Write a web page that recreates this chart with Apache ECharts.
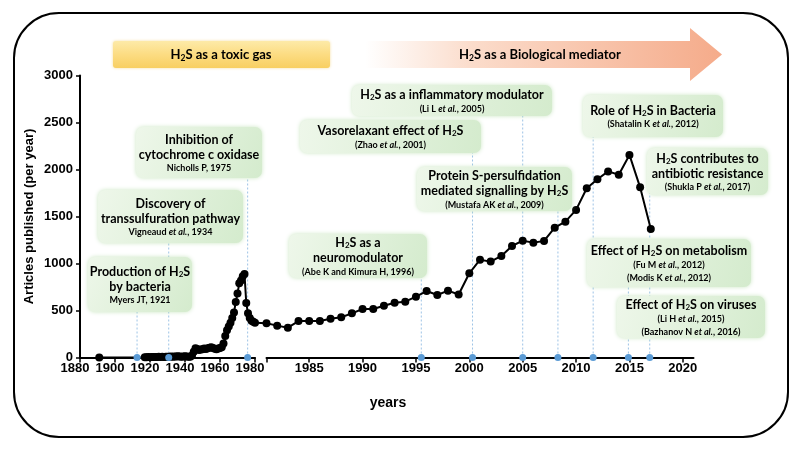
<!DOCTYPE html>
<html><head><meta charset="utf-8">
<script src="https://cdn.jsdelivr.net/npm/echarts@6/dist/echarts.min.js"></script>
<style>html,body{margin:0;padding:0;background:#fff}#main{width:800px;height:450px}</style>
</head><body><div id="main"></div>
<script>
// ---------- data ----------
const yearsEarly = [1891,1917,1918,1919,1920,1921,1922,1923,1924,1925,1926,1927,1928,1929,1930,1931,1932,1933,1934,1935,1936,1937,1938,1939,1940,1941,1942,1943,1944,
  1945,1946,1947,1948,1949,1950,1951,1952,1953,1954,1955,1956,1957,1958,1959,1960,1961,1962,1963,1964,1965,1966,1967,1968,1969,1970,1971,1972,1973,1974,1975,1976,1977,1978,1979,1980];
const valuesEarly = [0,3,2,4,3,5,4,6,5,7,6,8,6,7,9,8,10,9,11,10,12,10,9,11,12,10,9,8,20,
  60,98,90,80,85,87,95,90,98,105,108,100,92,87,95,100,108,150,230,290,330,370,420,480,590,680,790,820,865,888,580,470,420,390,380,370];
const yearsLate = [1981,1982,1983,1984,1985,1986,1987,1988,1989,1990,1991,1992,1993,1994,1995,1996,1997,1998,1999,2000,2001,2002,2003,2004,2005,2006,2007,2008,2009,2010,2011,2012,2013,2014,2015,2016,2017];
const valuesLate = [364,339,317,388,388,388,413,428,470,516,516,551,583,594,647,707,665,711,670,896,1040,1020,1080,1186,1243,1222,1240,1381,1445,1570,1800,1896,1980,1945,2155,1810,1367];
const yTicks = [0,500,1000,1500,2000,2500,3000];
const earlyTickYears = [1880,1900,1920,1940,1960,1980];
const lateTickYears = [1981,1985,1990,1995,2000,2005,2010,2015,2020];
const lateLabelYears = [1985,1990,1995,2000,2005,2010,2015,2020];
// event markers (year where the marker sits on the axis, segment, and event box it belongs to)
const markerYears = [1912.6,1930.7,1975.8,1995.5,2000.3,2005.0,2008.3,2011.6,2014.9,2016.9];
const markerSegment = [0,0,0,1,1,1,1,1,1,1];
const markerEvent = [0,1,2,3,4,5,6,7,9,8];
const eventTexts = [
  '{t|Production of H}{s|2}{t|S}\n{t|by bacteria}\n{r|Myers JT, 1921}',
  '{t|Discovery of}\n{t|transsulfuration pathway}\n{r|Vigneaud }{ri|et al.}{r|, 1934}',
  '{t|Inhibition of}\n{t|cytochrome c oxidase}\n{r|Nicholls P, 1975}',
  '{t|H}{s|2}{t|S as a}\n{t|neuromodulator}\n{r|(Abe K and Kimura H, 1996)}',
  '{t|Vasorelaxant effect of H}{s|2}{t|S}\n{r|(Zhao }{ri|et al.}{r|, 2001)}',
  '{t|H}{s|2}{t|S as a inflammatory modulator}\n{r|(Li L }{ri|et al.}{r|, 2005)}',
  '{t|Protein S-persulfidation}\n{t|mediated signalling by H}{s|2}{t|S}\n{r|(Mustafa AK }{ri|et al.}{r|, 2009)}',
  '{t|Role of H}{s|2}{t|S in Bacteria}\n{r|(Shatalin K }{ri|et al.}{r|, 2012)}',
  '{t|H}{s|2}{t|S contributes to}\n{t|antibiotic resistance}\n{r|(Shukla P }{ri|et al.}{r|, 2017)}',
  '{t|Effect of H}{s|2}{t|S on metabolism}\n{r|(Fu M }{ri|et al.}{r|, 2012)}\n{r|(Modis K }{ri|et al.}{r|, 2012)}',
  '{t|Effect of H}{s|2}{t|S on viruses}\n{r|(Li H }{ri|et al.}{r|, 2015)}\n{r|(Bazhanov N }{ri|et al.}{r|, 2016)}'
];
const phaseTexts = ['{b|H}{bs|2}{b|S as a toxic gas}', '{b|H}{bs|2}{b|S as a Biological mediator}'];
const yTitle = 'Articles published (per year)';
const xTitle = 'years';

// ---------- layout (pixels) ----------
const eventBoxes = [
  [88,257,104,55],[98,190,145,53],[136,127,126,51],[289,234,138,44],[300,120,181,33],
  [352,85,200,31],[417,167,155,44],[583,95,140,42],[647,148,121,47],[587,239,164,48],[617,296,148,42]
];
const LABEL_FONT = 'Liberation Sans, Arial, sans-serif';
const BOX_FONT = 'Lato, Noto Sans, sans-serif';

const axisLineStyle = {color:'#000', width:2};
const tickStyle = {color:'#000', width:1.5};
const plain = v => String(v);
const labelStyle = {color:'#000', fontWeight:'bold', fontSize:13, fontFamily:LABEL_FONT, formatter:plain};

const option = {
  animation:false,
  backgroundColor:'#fff',
  title:{text:xTitle, left:383, top:391, textAlign:'center',
    textStyle:{fontSize:14, fontWeight:'bold', color:'#000', fontFamily:LABEL_FONT}},
  grid:[
    {left:80, top:75.5, width:175, height:282, containLabel:false, outerBoundsMode:'none'},
    {left:266.5, top:75.5, width:427, height:282, containLabel:false, outerBoundsMode:'none'}
  ],
  xAxis:[
    {type:'value', gridIndex:0, min:1880, max:1980, interval:20,
      axisLine:{show:true, onZero:false, lineStyle:axisLineStyle},
      axisTick:{show:true, length:5, lineStyle:tickStyle},
      axisLabel:Object.assign({margin:4, padding:[0,10,0,0], customValues:earlyTickYears}, labelStyle),
      splitLine:{show:false}},
    {type:'value', gridIndex:1, min:1981, max:2021,
      axisLine:{show:true, onZero:false, lineStyle:axisLineStyle},
      axisTick:{show:true, length:5, lineStyle:tickStyle, customValues:lateTickYears},
      axisLabel:Object.assign({margin:4, customValues:lateLabelYears}, labelStyle),
      splitLine:{show:false}}
  ],
  yAxis:[
    {type:'value', gridIndex:0, min:0, max:3000, interval:500,
      name:yTitle, nameLocation:'middle', nameGap:44,
      nameTextStyle:{fontSize:13, fontWeight:'bold', color:'#000', fontFamily:LABEL_FONT},
      axisLine:{show:true, lineStyle:axisLineStyle},
      axisTick:{show:true, length:4, lineStyle:tickStyle},
      axisLabel:Object.assign({margin:7, customValues:yTicks}, labelStyle),
      splitLine:{show:false}},
    {type:'value', gridIndex:1, min:0, max:3000, show:false, splitLine:{show:false}}
  ],
  series:[
    {type:'line', xAxisIndex:0, yAxisIndex:0, data:yearsEarly.map((y,i)=>[y,valuesEarly[i]]),
      symbol:'circle', symbolSize:8, itemStyle:{color:'#000'}, lineStyle:{color:'#000', width:2}, z:3},
    {type:'line', xAxisIndex:1, yAxisIndex:1, data:yearsLate.map((y,i)=>[y,valuesLate[i]]),
      symbol:'circle', symbolSize:8, itemStyle:{color:'#000'}, lineStyle:{color:'#000', width:2}, z:3}
  ]
};

const chart = echarts.init(document.getElementById('main'), null, {renderer:'canvas'});
chart.setOption(option);

// ---------- graphics built through the chart's scales ----------
const g = [];
// outer frame
g.push({type:'rect', shape:{x:14, y:13, width:774, height:424, r:45}, style:{fill:'none', stroke:'#000', lineWidth:2}, z:0, silent:true});
// phase banners
g.push({type:'rect', shape:{x:113, y:41, width:217, height:27, r:3},
  style:{fill:{type:'linear', x:0, y:0, x2:0, y2:1, colorStops:[{offset:0, color:'#fdeaa8'},{offset:0.5,color:'#fcdc82'},{offset:1, color:'#f8cf62'}]},
    shadowBlur:3, shadowColor:'rgba(240,200,90,0.6)'}, z:5});
g.push({type:'polygon', shape:{points:[[365,41],[690,41],[690,28],[722,54.5],[690,81],[690,68],[365,68]]},
  style:{fill:{type:'linear', x:0, y:0, x2:1, y2:0, colorStops:[{offset:0, color:'rgba(255,255,255,1)'},{offset:0.3,color:'#fbdccb'},{offset:1, color:'#f5ab8a'}]}}, z:5});
const bannerRich = {
  b:{fontSize:13, fontWeight:'bold', fontFamily:BOX_FONT, color:'#1a1a1a'},
  bs:{fontSize:8.5, fontWeight:'bold', fontFamily:BOX_FONT, color:'#1a1a1a', padding:[6,0,0,0]}
};
g.push({type:'text', style:{text:phaseTexts[0], rich:bannerRich, x:221, y:55, align:'center', verticalAlign:'middle', textAlign:'center', textVerticalAlign:'middle'}, z:6});
g.push({type:'text', style:{text:phaseTexts[1], rich:bannerRich, x:540, y:55, align:'center', verticalAlign:'middle', textAlign:'center', textVerticalAlign:'middle'}, z:6});

// event marker lines and dots
markerYears.forEach((yr,i)=>{
  const seg = markerSegment[i];
  const px = chart.convertToPixel({xAxisIndex:seg}, yr);
  const py = chart.convertToPixel({yAxisIndex:seg}, 0);
  const b = eventBoxes[markerEvent[i]];
  g.push({type:'line', shape:{x1:px, y1:py, x2:px, y2:b[1]+b[3]/2}, style:{stroke:'#9dc3e6', lineWidth:1, lineDash:[2,2]}, z:1, silent:true});
  g.push({type:'circle', shape:{cx:px, cy:py, r:3.5}, style:{fill:'#5b9bd5'}, z:10, silent:true});
});
// bridge across the axis break, from the last early point to the first late point
const pA = chart.convertToPixel({gridIndex:0}, [yearsEarly[yearsEarly.length-1], valuesEarly[valuesEarly.length-1]]);
const pB = chart.convertToPixel({gridIndex:1}, [yearsLate[0], valuesLate[0]]);
g.push({type:'line', shape:{x1:pA[0], y1:pA[1], x2:pB[0], y2:pB[1]}, style:{stroke:'#000', lineWidth:2}, z:3, silent:true});

// event boxes
const boxRich = {
  t:{fontSize:12.5, fontWeight:'bold', fontFamily:BOX_FONT, color:'#1f1f1f', lineHeight:15},
  s:{fontSize:8, fontWeight:'bold', fontFamily:BOX_FONT, color:'#1f1f1f', lineHeight:15, padding:[5,0,0,0]},
  r:{fontSize:9, fontWeight:'bold', fontFamily:BOX_FONT, color:'#1f1f1f', lineHeight:13},
  ri:{fontSize:9, fontWeight:'bold', fontStyle:'italic', fontFamily:BOX_FONT, color:'#1f1f1f', lineHeight:13}
};
eventBoxes.forEach((b,i)=>{
  g.push({type:'rect', shape:{x:b[0], y:b[1], width:b[2], height:b[3], r:7},
    style:{fill:{type:'linear', x:0, y:0, x2:1, y2:1, colorStops:[{offset:0, color:'#eef7ea'},{offset:1, color:'#d4ebcd'}]},
      shadowBlur:4, shadowColor:'rgba(190,225,180,0.8)'}, z:20, silent:true});
  g.push({type:'text', style:{text:eventTexts[i], rich:boxRich, x:b[0]+b[2]/2, y:b[1]+b[3]/2+1,
    align:'center', verticalAlign:'middle', textAlign:'center', textVerticalAlign:'middle'}, z:21, silent:true});
});

chart.setOption({graphic:{elements:g}});
</script>
</body></html>
